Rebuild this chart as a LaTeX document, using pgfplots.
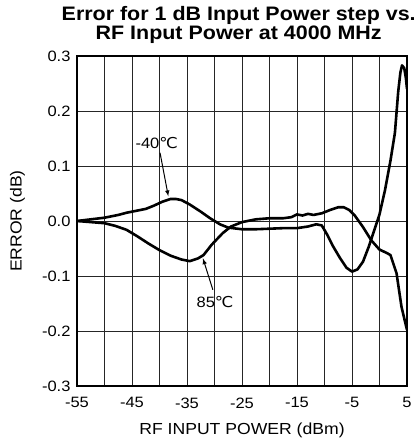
\documentclass[border=0pt]{standalone}
\usepackage{pgfplots}
\pgfplotsset{compat=1.18}
\usepackage{fontspec}
\setmainfont{Liberation Sans}[FakeStretch=1.1]
\newfontfamily\dejavu{DejaVu Sans}[FakeStretch=1.1]
\newcommand{\degC}{{\dejavu ℃}}

\begin{document}
\begin{tikzpicture}
\useasboundingbox (-77pt,-53pt) rectangle (342pt,386pt);
\begin{axis}[
  scale only axis, width=330pt, height=330pt,
  xmin=-55, xmax=5, ymin=-0.3, ymax=0.3,
  xtick={-55,-45,...,5}, minor xtick={-50,-40,...,0},
  xticklabels={-55,-45,-35,-25,-15,-5,5},
  ytick={-0.3,-0.2,...,0.31},
  yticklabels={-0.3,-0.2,-0.1,0.0,0.1,0.2,0.3},
  grid=both,
  grid style={black!85, line width=0.9pt},
  minor grid style={black!85, line width=0.9pt},
  major tick length=0pt, minor tick length=0pt,
  axis line style={line width=1.6pt},
  tick label style={font=\fontsize{15}{17}\selectfont},
  xticklabel style={yshift=-8pt},
  yticklabel style={xshift=-3pt},
  /pgf/number format/assume math mode=true,
  xlabel={RF INPUT POWER (dBm)},
  ylabel={ERROR (dB)},
  every axis x label/.style={at={(axis description cs:0.5,-0.133)}, anchor=center,
    font=\fontsize{16}{18}\selectfont},
  every axis y label/.style={at={(axis description cs:-0.18,0.5)}, rotate=90, anchor=center,
    font=\fontsize{16}{18}\selectfont},
  title={Error for 1 dB Input Power step vs.\\RF Input Power at 4000 MHz},
  title style={at={(axis description cs:0.49,1)}, anchor=base, inner sep=0pt, yshift=11pt,
    font=\bfseries\fontsize{19.5}{19}\selectfont, align=center},
]
% -40 C
\addplot[black, line width=2.6pt, line join=round] coordinates {
(-55,0.0) (-52.5,0.003) (-50,0.006) (-47.5,0.011) (-46,0.015) (-44,0.019)
(-42.5,0.022) (-41,0.028) (-39.5,0.035) (-38,0.040) (-37,0.040) (-36,0.038)
(-34.5,0.030) (-32.5,0.017) (-30.8,0.005) (-29,-0.006) (-27.5,-0.012)
(-25,-0.015) (-22.5,-0.015) (-20,-0.014) (-17.5,-0.013) (-15,-0.013)
(-13,-0.010) (-11.5,-0.006) (-10.5,-0.008) (-9.5,-0.025) (-8.5,-0.045)
(-7.2,-0.067) (-6,-0.085) (-5,-0.092) (-4,-0.088) (-3,-0.074) (-2,-0.048)
(-1,-0.018) (0,0.012) (1,0.056) (2,0.11) (2.8,0.16) (3.4,0.235) (3.8,0.27)
(4.1,0.283) (4.5,0.278) (4.8,0.26) (5,0.24)
};
% 85 C
\addplot[black, line width=2.6pt, line join=round] coordinates {
(-55,0.0) (-52.5,-0.002) (-50,-0.004) (-48,-0.009) (-46,-0.016) (-44,-0.028)
(-42,-0.041) (-40,-0.053) (-38,-0.063) (-36,-0.070) (-34.5,-0.073) (-33,-0.068)
(-32,-0.062) (-30.5,-0.043) (-28.5,-0.022) (-27,-0.010) (-25,-0.002)
(-22.5,0.003) (-20,0.005) (-17.5,0.005) (-16,0.007) (-15,0.012) (-14,0.010)
(-13,0.013) (-12,0.011) (-10.5,0.014) (-9,0.020) (-7.5,0.025) (-6.5,0.025)
(-5.5,0.020) (-4.5,0.010) (-3,-0.011) (-1.5,-0.035) (0,-0.052) (1.3,-0.058)
(2,-0.062) (2.5,-0.077) (3.1,-0.095) (4,-0.156) (5,-0.198)
};
\node[font=\fontsize{15}{17}\selectfont, inner sep=1pt] at (axis cs:-40.5,0.142) {-40\degC};
\draw[-latex, line width=1pt] (axis cs:-39.9,0.124) -- (axis cs:-38.4,0.045);
\node[font=\fontsize{15}{17}\selectfont, inner sep=1pt] at (axis cs:-29.9,-0.147) {85\degC};
\draw[-latex, line width=1pt] (axis cs:-30.3,-0.125) -- (axis cs:-32.1,-0.068);
\end{axis}
\end{tikzpicture}
\end{document}
